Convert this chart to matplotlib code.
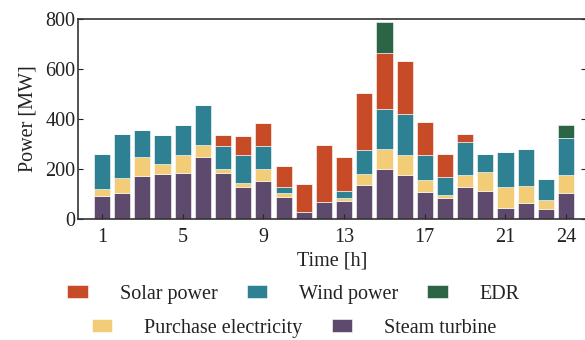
import numpy as np
import matplotlib
matplotlib.use("Agg")
import matplotlib.pyplot as plt

plt.rcParams['font.family'] = ['Liberation Serif', 'DejaVu Serif']

hours = np.arange(1, 25)
steam = [93, 105, 173, 179, 184, 249, 185, 127, 153, 88, 29, 69,
         71, 135, 201, 175, 108, 83, 129, 112, 45, 65, 41, 105]
purchase = [27, 60, 74, 40, 72, 47, 14, 17, 46, 16, 0, 0,
            14, 46, 78, 80, 48, 13, 48, 75, 83, 68, 36, 70]
wind = [140, 174, 110, 117, 119, 160, 93, 111, 94, 25, 0, 0,
        26, 94, 160, 164, 100, 72, 130, 73, 140, 148, 82, 148]
solar = [0, 0, 0, 0, 0, 0, 44, 78, 90, 84, 112, 228,
         136, 228, 226, 214, 133, 93, 33, 0, 0, 0, 0, 0]
edr = [0, 0, 0, 0, 0, 0, 0, 0, 0, 0, 0, 0,
       0, 0, 124, 0, 0, 0, 0, 0, 0, 0, 0, 54]

series = [
    ('Steam turbine', steam, '#5e4a6c'),
    ('Purchase electricity', purchase, '#f2cc77'),
    ('Wind power', wind, '#2e8093'),
    ('Solar power', solar, '#c84b27'),
    ('EDR', edr, '#2c6546'),
]

fig = plt.figure(figsize=(5.85, 3.4), dpi=100)
ax = fig.add_axes([0.133, 0.356, 0.869, 0.588])

bottom = np.zeros(len(hours))
handles = {}
for name, vals, col in series:
    vals = np.array(vals, dtype=float)
    b = ax.bar(hours, vals, width=0.8, bottom=bottom, color=col,
               edgecolor='white', linewidth=0.4, label=name)
    handles[name] = b
    bottom += vals

ax.set_xlim(-0.2, 25)
ax.set_ylim(0, 800)
ax.set_xticks([1, 5, 9, 13, 17, 21, 24])
ax.set_yticks([0, 200, 400, 600, 800])
ax.tick_params(direction='in', length=3.5, width=0.8, labelsize=14.5,
               right=True, colors='#222222')
ax.tick_params(axis='y', pad=1.5)
ax.tick_params(axis='x', pad=6.5)
for s in ax.spines.values():
    s.set_linewidth(1.2)
    s.set_color('#333333')
ax.set_xlabel('Time [h]', fontsize=14.5, labelpad=3, color='#222222')
ax.set_ylabel('Power [MW]', fontsize=14.5, labelpad=6, color='#222222')

kw = dict(frameon=False, fontsize=14.5, handlelength=1.0, handleheight=0.6,
          handletextpad=1.6, columnspacing=1.45, borderpad=0, loc='center')
leg1 = fig.legend([handles[n] for n in ['Solar power', 'Wind power', 'EDR']],
                  ['Solar power', 'Wind power', 'EDR'], ncol=3,
                  bbox_to_anchor=(0.502, 0.135), **kw)
leg2 = fig.legend([handles[n] for n in ['Purchase electricity', 'Steam turbine']],
                  ['Purchase electricity', 'Steam turbine'], ncol=2,
                  bbox_to_anchor=(0.503, 0.034), **kw)
for leg in (leg1, leg2):
    for t in leg.get_texts():
        t.set_color('#222222')

fig.savefig('out.png', dpi=100)
